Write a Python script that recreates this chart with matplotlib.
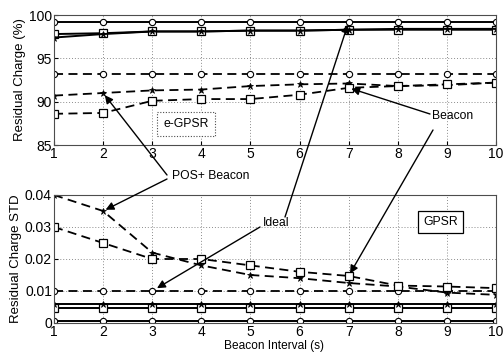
import matplotlib
matplotlib.use("Agg")
import matplotlib.pyplot as plt
import numpy as np

plt.rcParams['font.family'] = ['Liberation Sans', 'DejaVu Sans']

x = [1, 2, 3, 4, 5, 6, 7, 8, 9, 10]

# Top panel: residual charge (%)
rc_ideal_gpsr = [99.2] * 10
rc_ideal_egpsr = [93.2] * 10
rc_gpsr_beacon = [97.8, 97.9, 98.1, 98.1, 98.2, 98.2, 98.3, 98.3, 98.3, 98.3]
rc_gpsr_pos = [97.4, 97.8, 98.1, 98.1, 98.2, 98.2, 98.3, 98.4, 98.4, 98.4]
rc_egpsr_pos = [90.7, 91.0, 91.3, 91.4, 91.8, 92.0, 92.1, 91.8, 91.9, 92.2]
rc_egpsr_beacon = [88.6, 88.7, 90.1, 90.3, 90.3, 90.8, 91.6, 91.8, 92.0, 92.2]

# Bottom panel: residual charge STD
sd_ideal_gpsr = [0.0005] * 10
sd_ideal_egpsr = [0.010] * 10
sd_gpsr_beacon = [0.0047] * 10
sd_gpsr_pos = [0.0058] * 10
sd_egpsr_pos = [0.040, 0.035, 0.022, 0.018, 0.015, 0.014, 0.0125, 0.0114, 0.0095, 0.0088]
sd_egpsr_beacon = [0.030, 0.025, 0.020, 0.020, 0.018, 0.016, 0.0147, 0.0117, 0.0114, 0.0109]

xticks = [1, 2, 3, 4, 5, 6, 7, 8, 9, 10]
top_yticks = [85, 90, 95, 100]
bot_yticks = [0, 0.01, 0.02, 0.03, 0.04]
bot_yticklabels = ['0', '0.01', '0.02', '0.03', '0.04']

W, H = 503, 353
fig = plt.figure(figsize=(W / 100, H / 100), dpi=100)
ax1 = fig.add_axes([54 / W, 1 - 145 / H, (496 - 54) / W, (145 - 15) / H])
ax2 = fig.add_axes([54 / W, 1 - 323 / H, (496 - 54) / W, (323 - 195) / H])

solid = dict(color='k', lw=1.4, ls='-')
dashed = dict(color='k', lw=1.3, ls=(0, (5, 3)))
mk_o = dict(marker='o', ms=4.5, mfc='white', mec='k', mew=0.8)
mk_s = dict(marker='s', ms=5.5, mfc='white', mec='k', mew=0.9)
mk_st = dict(marker='*', ms=5, mfc='k', mec='k', mew=0.5)

ax1.plot(x, rc_ideal_gpsr, **solid, **mk_o)
ax1.plot(x, rc_gpsr_beacon, **solid, **mk_s)
ax1.plot(x, rc_gpsr_pos, **solid, **mk_st)
ax1.plot(x, rc_ideal_egpsr, **dashed, **mk_o)
ax1.plot(x, rc_egpsr_pos, **dashed, **mk_st)
ax1.plot(x, rc_egpsr_beacon, **dashed, **mk_s)

ax2.plot(x, sd_ideal_gpsr, **solid, **mk_o)
ax2.plot(x, sd_gpsr_beacon, **solid, **mk_s)
ax2.plot(x, sd_gpsr_pos, **solid, **mk_st)
ax2.plot(x, sd_ideal_egpsr, **dashed, **mk_o)
ax2.plot(x, sd_egpsr_pos, **dashed, **mk_st)
ax2.plot(x, sd_egpsr_beacon, **dashed, **mk_s)

for ax in (ax1, ax2):
    ax.set_xlim(1, 10)
    ax.set_xticks(xticks)
    ax.grid(True, ls=(0, (1, 2)), color='0.55', lw=0.7)
    ax.tick_params(direction='in', labelsize=10, length=3, pad=1.5)
    for s in ax.spines.values():
        s.set_linewidth(0.8)
        s.set_color('0.3')
    ax.set_axisbelow(True)

ax1.set_ylim(85, 100)
ax1.set_yticks(top_yticks)
ax2.set_ylim(0, 0.04)
ax2.set_yticks(bot_yticks)
ax2.set_yticklabels(bot_yticklabels)

ax1.set_ylabel('Residual Charge (%)', fontsize=9.5, labelpad=2)
ax2.set_ylabel('Residual Charge STD', fontsize=9.5, labelpad=2)


def fp(px, py):
    return (px / W, 1 - py / H)


fig.text(*fp(274, 346), 'Beacon Interval (s)', fontsize=8.6, ha='center', va='center')

# Boxes
ax1.text(0.247, 0.16, 'e-GPSR', transform=ax1.transAxes, fontsize=8.8,
         ha='left', va='center',
         bbox=dict(boxstyle='square,pad=0.5', fc='white', ec='0.3', ls=(0, (1, 1.5)), lw=0.8))
ax2.text(0.835, 0.79, 'GPSR', transform=ax2.transAxes, fontsize=8.8,
         ha='left', va='center',
         bbox=dict(boxstyle='square,pad=0.4', fc='white', ec='k', lw=0.9))

# Annotation labels
fig.text(*fp(172, 176), 'POS+ Beacon', fontsize=8.7, ha='left', va='center')
fig.text(*fp(263, 223), 'Ideal', fontsize=8.7, ha='left', va='center')
fig.text(*fp(432, 116), 'Beacon', fontsize=8.7, ha='left', va='center')

ap = dict(arrowstyle='-|>', color='k', lw=1.0, mutation_scale=12, shrinkA=0, shrinkB=2)


def arrow(ax, xy, start, shrinkB=2):
    a = ax2.annotate('', xy=xy, xycoords=ax.transData, xytext=fp(*start),
                     textcoords='figure fraction', arrowprops=dict(ap, shrinkB=shrinkB),
                     annotation_clip=False, zorder=10)
    a.set_clip_on(False)
    a.arrow_patch.set_clip_on(False)


arrow(ax1, (2, rc_egpsr_pos[1]), (167, 175))
arrow(ax2, (2, sd_egpsr_pos[1]), (167, 179))
arrow(ax1, (7, rc_ideal_gpsr[6]), (285, 217))
arrow(ax2, (3, sd_ideal_egpsr[2]), (260, 227), shrinkB=4)
arrow(ax1, (7, rc_egpsr_beacon[6]), (430, 114))
arrow(ax2, (7, sd_egpsr_beacon[6]), (433, 130))

fig.savefig('out.png', dpi=100)
